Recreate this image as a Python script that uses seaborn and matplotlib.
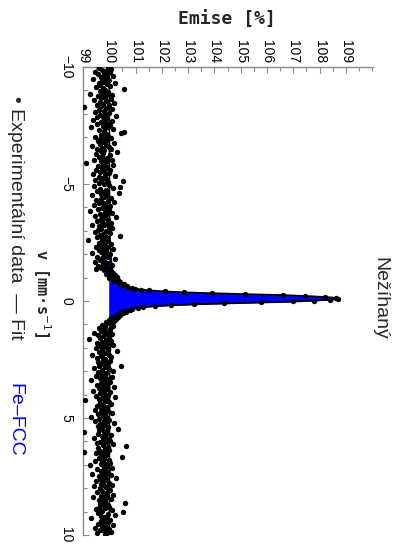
import numpy as np
import pandas as pd
import seaborn as sns
import matplotlib.pyplot as plt
from matplotlib.ticker import MultipleLocator

sns.set_style("white")
plt.rcParams['font.family'] = ['Liberation Sans', 'DejaVu Sans']

# velocity channels of the spectrometer (512 channels, -10 .. 10 mm/s)
v_min, v_max, n_channels = -10, 10, 512
velocity = np.linspace(v_min, v_max, n_channels)

# measured emission [%], one value per channel
emise = [
    99.95, 99.62, 100.08, 99.71, 99.88, 99.45, 100.02, 99.79, 99.56, 99.93, 100.15, 99.68, 99.84, 99.37, 99.99, 99.74,
    99.81, 100.21, 99.59, 99.90, 99.66, 100.04, 99.49, 99.77, 100.57, 99.85, 99.63, 99.96, 99.72, 99.28, 99.91, 100.12,
    99.58, 99.83, 99.70, 100.06, 99.41, 99.87, 99.64, 100.18, 99.76, 99.52, 99.97, 99.69, 99.02, 99.86, 100.09, 99.60,
    99.78, 99.47, 100.00, 99.82, 99.65, 100.26, 99.73, 99.55, 99.92, 99.80, 99.39, 100.11, 99.67, 99.89, 99.53, 100.03,
    99.75, 99.96, 99.31, 99.84, 100.14, 99.61, 99.79, 100.55, 100.45, 99.88, 99.70, 99.94, 99.44, 99.82, 100.07, 99.66,
    99.90, 99.57, 99.78, 100.19, 99.63, 99.86, 99.35, 99.98, 99.72, 100.05, 99.54, 99.81, 99.69, 100.30, 99.76, 99.48,
    100.01, 99.74, 99.60, 99.93, 99.83, 99.42, 100.10, 99.68, 99.87, 99.12, 99.77, 100.16, 99.58, 99.91, 99.71, 99.85,
    99.51, 100.04, 99.79, 99.66, 99.97, 99.38, 99.84, 100.22, 99.62, 99.75, 99.89, 99.46, 100.52, 99.70, 99.95, 99.59,
    99.80, 99.99, 99.43, 100.40, 100.13, 99.64, 99.86, 99.55, 99.92, 99.77, 100.36, 99.67, 99.34, 99.88, 99.81, 100.06,
    99.69, 99.50, 99.94, 100.17, 99.76, 99.61, 99.83, 99.40, 100.02, 99.87, 99.72, 99.58, 99.98, 99.26, 99.85, 100.09,
    99.63, 99.91, 99.78, 99.47, 100.24, 99.82, 99.68, 99.95, 99.53, 99.74, 100.08, 99.88, 99.36, 99.79, 99.62, 99.97,
    100.12, 99.70, 99.56, 99.86, 99.44, 100.01, 99.77, 99.65, 100.40, 99.83, 99.52, 99.90, 99.73, 99.18, 99.96, 99.80,
    99.59, 100.05, 99.84, 99.67, 99.93, 99.48, 99.75, 100.15, 99.61, 99.89, 99.70, 99.33, 100.03, 99.78, 99.87, 99.54,
    99.96, 99.72, 100.20, 99.64, 99.81, 99.45, 99.92, 99.76, 100.11, 99.57, 99.85, 99.69, 99.99, 99.50, 99.79, 100.07,
    99.96, 100.14, 99.88, 100.22, 100.03, 100.31, 99.97, 100.26, 100.12, 100.35, 100.19, 100.42, 100.38, 100.55, 100.50, 100.66,
    100.68, 100.86, 100.98, 101.22, 101.52, 102.12, 102.83, 103.92, 105.18, 106.62, 107.44, 108.22, 108.64, 108.68, 108.38, 107.77,
    106.98, 105.76, 104.38, 103.22, 102.33, 101.72, 101.27, 101.09, 100.86, 100.79, 100.61, 100.63, 100.45, 100.52, 100.33, 100.41,
    100.22, 100.35, 100.08, 100.27, 99.98, 100.18, 99.86, 100.12, 99.94, 100.05, 99.71, 100.16, 99.83, 99.62, 100.02, 99.77,
    99.68, 99.93, 99.41, 99.85, 100.10, 99.57, 99.76, 99.99, 99.63, 99.22, 99.88, 100.05, 99.71, 99.54, 99.90, 99.79,
    100.16, 99.66, 99.82, 99.48, 99.95, 99.73, 100.28, 99.60, 99.87, 99.77, 99.35, 99.98, 99.69, 100.07, 99.52, 99.84,
    99.75, 100.01, 99.58, 99.91, 99.67, 99.80, 100.44, 99.62, 99.86, 99.43, 99.97, 99.74, 100.13, 99.56, 99.89, 99.70,
    99.83, 99.49, 100.09, 99.78, 99.64, 99.94, 99.29, 99.81, 100.02, 99.68, 99.87, 99.55, 99.76, 100.19, 99.61, 99.92,
    99.72, 99.85, 99.38, 100.04, 99.66, 99.79, 99.95, 99.51, 100.23, 99.74, 99.60, 99.88, 99.06, 99.83, 99.97, 99.65,
    100.06, 99.77, 99.53, 99.90, 99.70, 99.84, 99.82, 99.45, 99.96, 99.69, 100.11, 99.58, 99.84, 99.75, 99.32, 99.93,
    99.62, 100.00, 99.78, 99.47, 99.89, 100.17, 99.66, 99.81, 99.57, 99.94, 99.73, 100.32, 99.60, 99.86, 99.02, 99.79,
    99.91, 99.56, 100.08, 99.71, 99.84, 99.40, 99.98, 99.75, 100.03, 99.63, 99.87, 99.52, 100.14, 99.77, 100.62, 99.95,
    99.58, 99.83, 99.99, 99.64, 99.02, 99.76, 99.49, 99.90, 99.70, 99.85, 100.47, 99.61, 99.80, 99.97, 99.44, 99.73,
    100.04, 99.69, 99.86, 99.27, 99.93, 99.78, 100.12, 99.55, 99.82, 99.67, 99.96, 99.74, 99.36, 100.07, 99.88, 99.59,
    99.81, 100.26, 99.65, 99.92, 99.50, 99.77, 99.98, 99.70, 100.10, 99.84, 99.42, 99.89, 99.63, 99.95, 100.01, 99.72,
    99.54, 99.87, 99.76, 100.15, 99.68, 99.91, 99.37, 99.80, 100.05, 99.60, 99.83, 99.74, 100.58, 99.66, 99.94, 99.79,
    99.99, 99.62, 99.85, 99.48, 100.09, 99.73, 100.52, 99.56, 99.96, 100.20, 99.69, 99.82, 99.31, 99.90, 99.75, 100.03,
    99.67, 99.94, 99.80, 99.58, 100.13, 99.71, 99.86, 99.45, 100.00, 99.77, 99.64, 99.92, 100.06, 99.53, 99.84, 99.89,
]

# fitted curve (Fe-FCC singlet on 100 % baseline)
fit_v = [-10, -5, -3.5, -2.5, -2.0, -1.6, -1.3, -1.0, -0.9, -0.8, -0.7, -0.6, -0.55, -0.5, -0.45,
         -0.4, -0.35, -0.3, -0.25, -0.2, -0.15, -0.11, -0.07, -0.02, 0.03, 0.08, 0.13, 0.18, 0.23,
         0.28, 0.33, 0.38, 0.43, 0.5, 0.6, 0.7, 0.8, 0.9, 1.1, 1.4, 1.8, 2.3, 3.3, 5, 10]
fit_e = [100.0, 100.005, 100.015, 100.03, 100.05, 100.08, 100.12, 100.25, 100.30, 100.40, 100.52,
         100.73, 100.90, 101.15, 101.55, 102.3, 103.4, 105.0, 106.7, 107.75, 108.5, 108.7, 108.5,
         107.75, 106.7, 105.0, 103.4, 102.3, 101.55, 101.15, 100.90, 100.73, 100.61, 100.50, 100.38,
         100.29, 100.24, 100.20, 100.12, 100.08, 100.05, 100.03, 100.015, 100.005, 100.0]

emise_ticks = [99, 100, 101, 102, 103, 104, 105, 106, 107, 108, 109]

df = pd.DataFrame({'v': velocity, 'emise': emise})
fit = pd.DataFrame({'v': fit_v, 'emise': fit_e})

fig = plt.figure(figsize=(4.02, 5.46), dpi=100)
ax = fig.add_axes([83 / 402, 1 - 535 / 546, 290 / 402, 468 / 546])

# blue component area
inside = (fit['v'] >= -2.0) & (fit['v'] <= 1.8)
ax.fill_betweenx(fit['v'][inside], 100, fit['emise'][inside], color='blue', lw=0.8, zorder=2)

sns.lineplot(data=fit, x='emise', y='v', sort=False, estimator=None, color='black', lw=1.2, ax=ax, zorder=3)
sns.scatterplot(data=df, x='emise', y='v', color='black', s=15, linewidth=0, ax=ax, zorder=4)

ax.set_xlim(99, 110.03)
ax.set_ylim(10, -10)
ax.set_xlabel('')
ax.set_ylabel('')

ax.xaxis.tick_top()
ax.set_xticks(emise_ticks)
ax.xaxis.set_minor_locator(MultipleLocator(0.5))
ax.yaxis.set_major_locator(MultipleLocator(5))
ax.yaxis.set_minor_locator(MultipleLocator(1))
ax.tick_params(axis='both', which='both', direction='in', color='#8a8a8a', labelsize=10, labelcolor='black')
ax.tick_params(axis='both', which='major', length=4, width=0.8)
ax.tick_params(axis='both', which='minor', length=3, width=0.8)
ax.tick_params(axis='x', which='both', top=True, bottom=False, labeltop=True, labelbottom=False, pad=3)
ax.tick_params(axis='y', which='both', left=True, right=False, pad=7)
for lab in ax.get_xticklabels():
    lab.set_rotation(-90)
for lab in ax.get_yticklabels():
    lab.set_rotation(-90)
    lab.set_va('center')

for side in ['right', 'bottom']:
    ax.spines[side].set_visible(False)
for side in ['left', 'top']:
    ax.spines[side].set_color('#8a8a8a')
    ax.spines[side].set_linewidth(1)

W, H = 402, 546
fig.text(227 / W, 1 - 20 / H, 'Emise [%]', family='DejaVu Sans Mono', weight='bold', fontsize=13,
         ha='center', va='center')
fig.text(42 / W, 1 - 293 / H, 'v [mm·s$^{-1}$]', family='DejaVu Sans Mono', weight='bold', fontsize=11,
         rotation=-90, ha='center', va='center')

fig.text(15 / W, 1 - 96 / H, '• Experimentální data  — Fit', fontsize=14, rotation=-90,
         ha='center', va='top')
fig.text(15 / W, 1 - 383 / H, 'Fe–FCC', fontsize=14, color='blue', rotation=-90, ha='center', va='top')
fig.text(380 / W, 1 - 257 / H, 'Nežíhaný', fontsize=14, rotation=-90, ha='center', va='top')

fig.savefig('out.png', dpi=100)
